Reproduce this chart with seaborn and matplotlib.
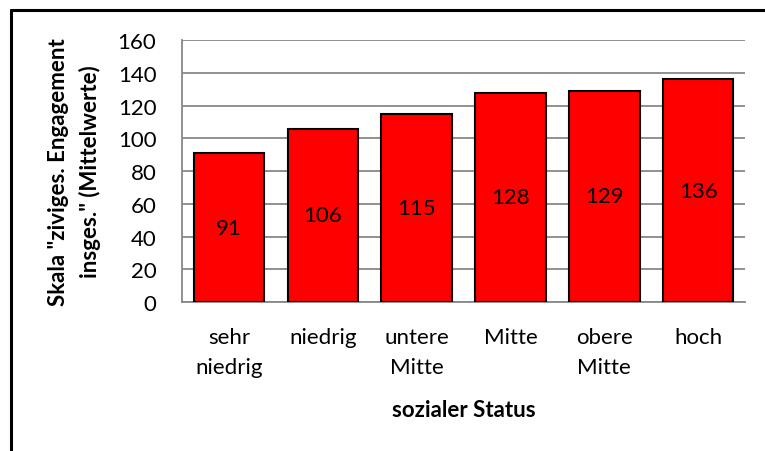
import matplotlib
matplotlib.use("Agg")
import matplotlib.pyplot as plt
import seaborn as sns
import pandas as pd
from matplotlib.lines import Line2D

categories = ["sehr\nniedrig", "niedrig", "untere\nMitte", "Mitte", "obere\nMitte", "hoch"]
values = [91, 106, 115, 128, 129, 136]
yticks = [0, 20, 40, 60, 80, 100, 120, 140, 160]

sns.set_style("white")
plt.rcParams["font.family"] = ["Lato", "DejaVu Sans"]
plt.rcParams["text.color"] = "black"
plt.rcParams["axes.labelcolor"] = "black"
plt.rcParams["xtick.labelcolor"] = "black"
plt.rcParams["ytick.labelcolor"] = "black"

df = pd.DataFrame({"cat": categories, "val": values})

FS = 16

fig = plt.figure(figsize=(7.65, 4.52), dpi=100)
ax = fig.add_axes([0.238, 0.3296, 0.736, 0.5794])

sns.barplot(data=df, x="cat", y="val", color="#FF0000", saturation=1,
            edgecolor="black", linewidth=1.5, width=0.75, ax=ax, zorder=3)

ax.set_ylim(0, 160)
ax.set_xlim(-0.5, len(categories) - 0.5)
ax.set_yticks(yticks)
ax.set_yticklabels([str(t) for t in yticks], fontsize=FS)
ax.yaxis.grid(True, color="#888888", linewidth=1.3, zorder=0)
ax.set_axisbelow(True)

for s in ["top", "right"]:
    ax.spines[s].set_visible(False)
for s in ["left", "bottom"]:
    ax.spines[s].set_color("#888888")
    ax.spines[s].set_linewidth(1.3)

ax.set_xticks(range(len(categories)))
ax.set_xticklabels(categories, fontsize=FS, linespacing=1.6)
ax.tick_params(axis="x", length=0, pad=18, labelcolor="black")
ax.set_xticks([i - 0.5 for i in range(len(categories) + 1)], minor=True)
ax.tick_params(axis="x", which="minor", length=6, width=1.3, color="#888888", direction="out")
ax.tick_params(axis="y", length=6.5, width=1.3, color="#888888", direction="out", pad=12,
               labelcolor="black")

for i, v in enumerate(values):
    ax.text(i, v / 2, str(v), ha="center", va="center", fontsize=FS, color="black", zorder=4)

ax.set_xlabel("sozialer Status", fontsize=FS, fontweight="bold", labelpad=16, color="black")
ax.set_ylabel('Skala "ziviges. Engagement\ninsges." (Mittelwerte)', fontsize=FS,
              fontweight="bold", labelpad=12, linespacing=1.55, color="black")

fig.add_artist(Line2D([10.5 / 765, 10.5 / 765], [0, 1 - 11 / 452], color="black", linewidth=2.2,
                      transform=fig.transFigure))
fig.add_artist(Line2D([10.5 / 765, 1], [1 - 11 / 452, 1 - 11 / 452], color="black", linewidth=2.2,
                      transform=fig.transFigure))

fig.savefig("out.png", dpi=100)
